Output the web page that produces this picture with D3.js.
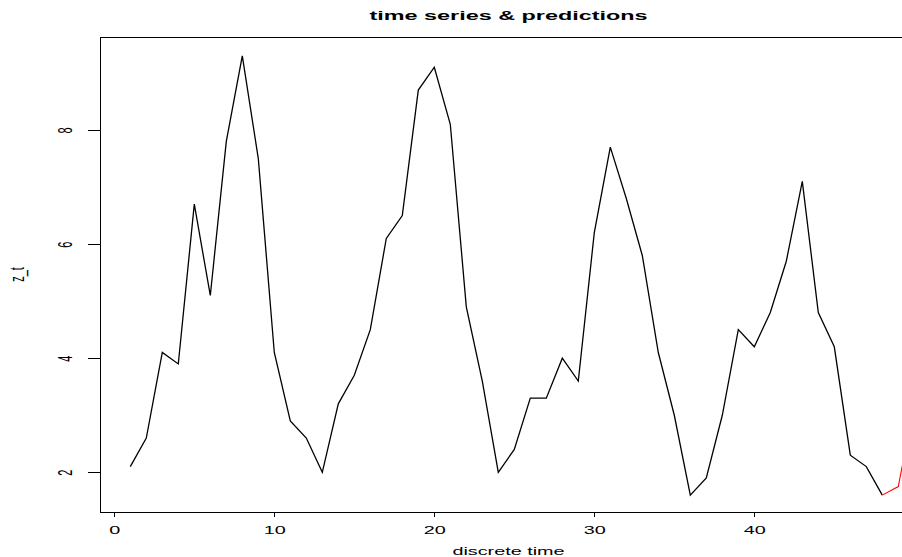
<!DOCTYPE html>
<meta charset="utf-8">
<head>
  <script src="https://cdn.jsdelivr.net/npm/d3@7"></script>
  <style>
    body { margin: 0; background: #fff; }
    svg text { font-family: "Liberation Sans", Arial, Helvetica, sans-serif; fill: #000; }
    .axis path, .axis line { stroke: #000; shape-rendering: crispEdges; }
  </style>
</head>
<body>
<script>

// datos: serie observada (t = 1..48) y predicciones (t = 48..50)
var tiempo = d3.range(1, 49);
var serie = [2.1, 2.6, 4.1, 3.9, 6.7, 5.1, 7.8, 9.3, 7.5, 4.1,
             2.9, 2.6, 2.0, 3.2, 3.7, 4.5, 6.1, 6.5, 8.7, 9.1,
             8.1, 4.9, 3.6, 2.0, 2.4, 3.3, 3.3, 4.0, 3.6, 6.2,
             7.7, 6.8, 5.8, 4.1, 3.0, 1.6, 1.9, 3.0, 4.5, 4.2,
             4.8, 5.7, 7.1, 4.8, 4.2, 2.3, 2.1, 1.6];
var tiempoPred = [48, 49, 50];
var pred = [1.6, 1.75, 3.2];

var xTicks = [0, 10, 20, 30, 40];
var yTicks = [2, 4, 6, 8];

var titulo = "time series & predictions";
var xLab = "discrete time";
var yLab = "z_t";

// la imagen original esta estirada en horizontal
var estira = 1.8;

var w = 902, h = 557;
var caja = {left: 100, right: 917, top: 37, bottom: 512};

var xScale = d3.scaleLinear().domain([0, 40]).range([114.3, 754.3]);
var yScale = d3.scaleLinear().domain([2, 8]).range([472.3, 130]);

var svg = d3.select("body").append("svg")
  .attr("width", w).attr("height", h);

// caja del grafico
svg.append("rect")
  .attr("x", caja.left + 0.5).attr("y", caja.top + 0.5)
  .attr("width", caja.right - caja.left).attr("height", caja.bottom - caja.top)
  .attr("fill", "none").attr("stroke", "#000").attr("stroke-width", 1);

// eje x
var gx = svg.append("g").attr("class", "axis")
  .attr("transform", "translate(0," + caja.bottom + ")")
  .call(d3.axisBottom(xScale).tickValues(xTicks).tickFormat(d3.format("d"))
    .tickSizeOuter(0).tickSize(5));
gx.selectAll("text")
  .attr("y", 22).attr("dy", 0)
  .attr("font-size", 11)
  .attr("transform", "scale(" + estira + ",1)");

// eje y
var gy = svg.append("g").attr("class", "axis")
  .attr("transform", "translate(" + caja.left + ",0)")
  .call(d3.axisLeft(yScale).tickValues(yTicks).tickFormat(d3.format("d"))
    .tickSizeOuter(0).tickSize(12));
gy.selectAll("text")
  .attr("x", 0).attr("dy", 0)
  .attr("text-anchor", "middle")
  .attr("font-size", 11)
  .attr("transform", "translate(-28,0) scale(" + estira + ",1) rotate(-90)");

// linea de la serie
var linea = d3.line()
  .x(function(d){ return xScale(d[0]); })
  .y(function(d){ return yScale(d[1]); });

svg.append("path")
  .datum(tiempo.map(function(t, i){ return [t, serie[i]]; }))
  .attr("d", linea)
  .attr("fill", "none").attr("stroke", "#000").attr("stroke-width", 1.3);

svg.append("path")
  .datum(tiempoPred.map(function(t, i){ return [t, pred[i]]; }))
  .attr("d", linea)
  .attr("fill", "none").attr("stroke", "#ff0000").attr("stroke-width", 1.1);

// textos
var cx = (caja.left + caja.right) / 2;
svg.append("text")
  .attr("transform", "translate(" + cx + ",20) scale(" + estira + ",1)")
  .attr("text-anchor", "middle")
  .attr("font-size", 13).attr("font-weight", "bold")
  .text(titulo);

svg.append("text")
  .attr("transform", "translate(" + cx + ",555) scale(" + estira + ",1)")
  .attr("text-anchor", "middle")
  .attr("font-size", 11)
  .text(xLab);

svg.append("text")
  .attr("transform", "translate(24," + (caja.top + caja.bottom) / 2 + ") scale(" + estira + ",1) rotate(-90)")
  .attr("text-anchor", "middle")
  .attr("font-size", 11)
  .text(yLab);

</script>
</body>
